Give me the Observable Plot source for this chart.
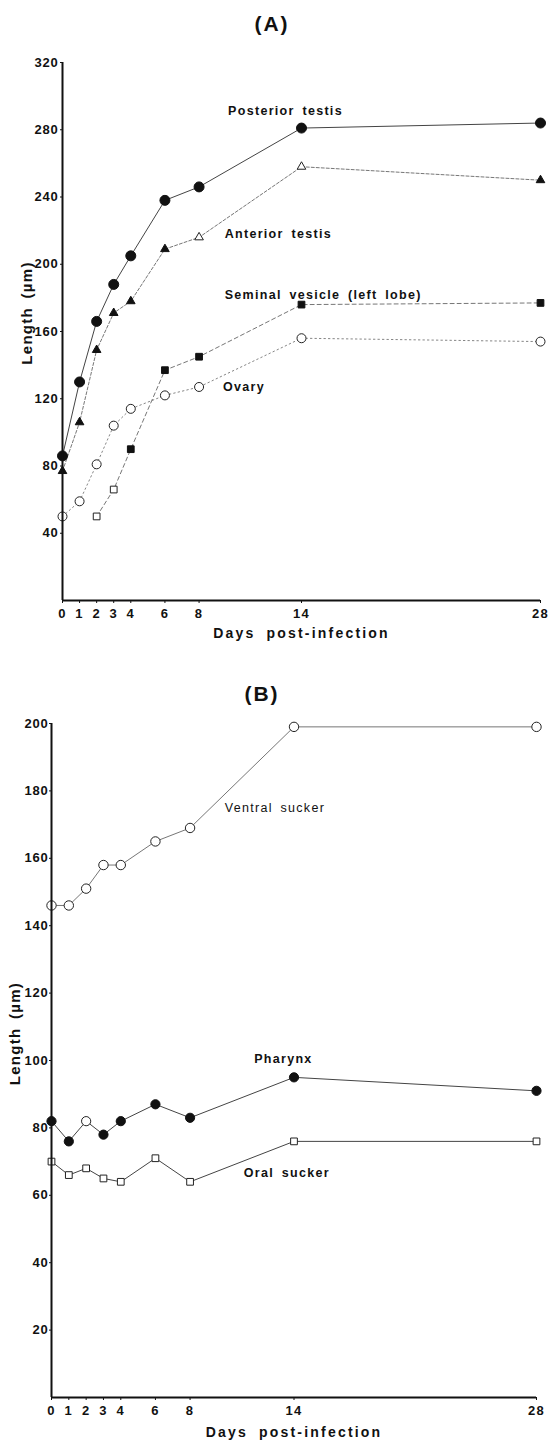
<!DOCTYPE html>
<html><head><meta charset="utf-8">
<script src="https://cdn.jsdelivr.net/npm/d3@7"></script>
<script src="https://cdn.jsdelivr.net/npm/@observablehq/plot@0.6"></script>
<style>
body{margin:0;background:#fff;}
#wrap{position:relative;width:556px;height:1441px;overflow:hidden;font-family:"Liberation Sans",Arial,sans-serif;background:#fff;}
.ttl{position:absolute;font-weight:bold;font-size:21px;letter-spacing:2px;width:556px;text-align:center;line-height:24px;color:#111;}
.chart{position:absolute;left:0;}
#wrap svg text{letter-spacing:1.3px;word-spacing:3px;}
#wrap svg g[aria-label="y-axis tick label"] text{letter-spacing:0.8px;}
#wrap svg g[aria-label="x-axis label"] text{letter-spacing:2.2px;word-spacing:5px;font-size:14px;}
</style></head><body><div id="wrap">
<div class="ttl" style="left:-6px;top:12px;">(A)</div>
<div class="chart" id="cA" style="top:45px"></div>
<div class="ttl" style="left:-16px;top:682px">(B)</div>
<div class="chart" id="cB" style="top:710px"></div>
</div>
<script>
// ---- data ----
const days = [0, 1, 2, 3, 4, 6, 8, 14, 28];
// Panel A
const posteriorTestis = [86, 130, 166, 188, 205, 238, 246, 281, 284];
const anteriorTestis  = [77, 106, 149, 171, 178, 209, 216, 258, 250];
const anteriorOpen    = [0, 0, 0, 0, 0, 0, 1, 1, 0];
const vesicleDays     = [2, 3, 4, 6, 8, 14, 28];
const seminalVesicle  = [50, 66, 90, 137, 145, 176, 177];
const vesicleOpen     = [1, 1, 0, 0, 0, 0, 0];
const ovary           = [50, 59, 81, 104, 114, 122, 127, 156, 154];
// Panel B
const ventralSucker = [146, 146, 151, 158, 158, 165, 169, 199, 199];
const pharynx       = [82, 76, 82, 78, 82, 87, 83, 95, 91];
const pharynxOpen   = [0, 0, 1, 0, 0, 0, 0, 0, 0];
const oralSucker    = [70, 66, 68, 65, 64, 71, 64, 76, 76];
// ticks
const xTicks  = [0, 1, 2, 3, 4, 6, 8, 14, 28];
const yTicksA = [40, 80, 120, 160, 200, 240, 280, 320];
const yTicksB = [20, 40, 60, 80, 100, 120, 140, 160, 180, 200];

const rows = (xs, ys, open) => xs.map((d, i) => ({day: d, value: ys[i], open: open ? !!open[i] : false}));
const FONT = "Liberation Sans, Arial, sans-serif";

function series(data, sym, r, lineStyle) {
  return [
    Plot.line(data, {x: "day", y: "value", stroke: lineStyle.stroke, strokeWidth: lineStyle.width, strokeDasharray: lineStyle.dash}),
    Plot.dot(data, {filter: d => !d.open, x: "day", y: "value", symbol: sym, r, fill: "#111", stroke: "#111", strokeWidth: 1}),
    Plot.dot(data, {filter: d => d.open, x: "day", y: "value", symbol: sym, r, fill: "white", stroke: "#222", strokeWidth: 1})
  ];
}
function openSeries(data, sym, r, lineStyle) {
  return [
    Plot.line(data, {x: "day", y: "value", stroke: lineStyle.stroke, strokeWidth: lineStyle.width, strokeDasharray: lineStyle.dash}),
    Plot.dot(data, {x: "day", y: "value", symbol: sym, r, fill: "white", stroke: "#222", strokeWidth: 1})
  ];
}
const lbl = (txt, x, y, weight) => Plot.text([txt], {x: () => x, y: () => y, text: d => d, textAnchor: "start", fontSize: 12.5, fontWeight: weight, fontFamily: FONT, fill: "#111"});
const ylabel = (y, dx) => Plot.text(["Length (\u00b5m)"], {frameAnchor: "left", y: () => y, dx, rotate: -90, textAnchor: "middle", lineAnchor: "middle", fontSize: 15, fontWeight: "bold", fontFamily: FONT, fill: "#111"});

const common = (h, mt, mb, ml, mr) => ({
  width: 556, height: h, marginTop: mt, marginBottom: mb, marginLeft: ml, marginRight: mr,
  style: {fontFamily: FONT, fontSize: "13px", fontWeight: "bold", background: "white", color: "#111", overflow: "visible"},
  x: {domain: [0, 28]}
});

const chartA = Plot.plot({
  ...common(605, 17, 50, 62, 16),
  y: {domain: [0, 320]},
  marks: [
    Plot.axisX({ticks: xTicks, tickSize: 3, tickPadding: 5, label: "Days post-infection", labelAnchor: "center", labelArrow: "none", labelOffset: 37}),
    Plot.axisY({ticks: yTicksA, tickSize: 2, tickPadding: 2, label: null}),
    ylabel(171, -35),
    ...openSeries(rows(days, ovary), "circle", 4.5, {stroke: "#777", width: 0.9, dash: "1.5,3"}),
    ...series(rows(vesicleDays, seminalVesicle, vesicleOpen), "square", 3.8, {stroke: "#666", width: 0.9, dash: "4,3"}),
    ...series(rows(days, anteriorTestis, anteriorOpen), "triangle", 3.2, {stroke: "#666", width: 0.9, dash: "3,2"}),
    ...series(rows(days, posteriorTestis), "circle", 5, {stroke: "#444", width: 1, dash: null}),
    Plot.ruleX([0], {strokeWidth: 2, stroke: "#111"}),
    Plot.ruleY([0], {strokeWidth: 2, stroke: "#111"}),
    lbl("Posterior testis", 9.7, 291, "bold"),
    lbl("Anterior testis", 9.5, 218, "bold"),
    lbl("Seminal vesicle (left lobe)", 9.5, 182, "bold"),
    lbl("Ovary", 9.4, 127, "bold")
  ]
});
document.getElementById("cA").append(chartA);

const chartB = Plot.plot({
  ...common(731, 13, 44, 51, 20),
  y: {domain: [0, 200]},
  marks: [
    Plot.axisX({ticks: xTicks, tickSize: 3, tickPadding: 5, label: "Days post-infection", labelAnchor: "center", labelArrow: "none", labelOffset: 39}),
    Plot.axisY({ticks: yTicksB, tickSize: 2, tickPadding: 1, label: null}),
    ylabel(108, -36),
    ...openSeries(rows(days, ventralSucker), "circle", 4.7, {stroke: "#666", width: 0.9, dash: null}),
    ...series(rows(days, pharynx, pharynxOpen), "circle", 4.6, {stroke: "#444", width: 1, dash: null}),
    ...openSeries(rows(days, oralSucker), "square", 3.8, {stroke: "#444", width: 1, dash: null}),
    Plot.ruleX([0], {strokeWidth: 2, stroke: "#111"}),
    Plot.ruleY([0], {strokeWidth: 2, stroke: "#111"}),
    lbl("Ventral sucker", 10.0, 175, "normal"),
    lbl("Pharynx", 11.7, 100.5, "bold"),
    lbl("Oral sucker", 11.1, 66.5, "bold")
  ]
});
document.getElementById("cB").append(chartB);
</script>
</body></html>
